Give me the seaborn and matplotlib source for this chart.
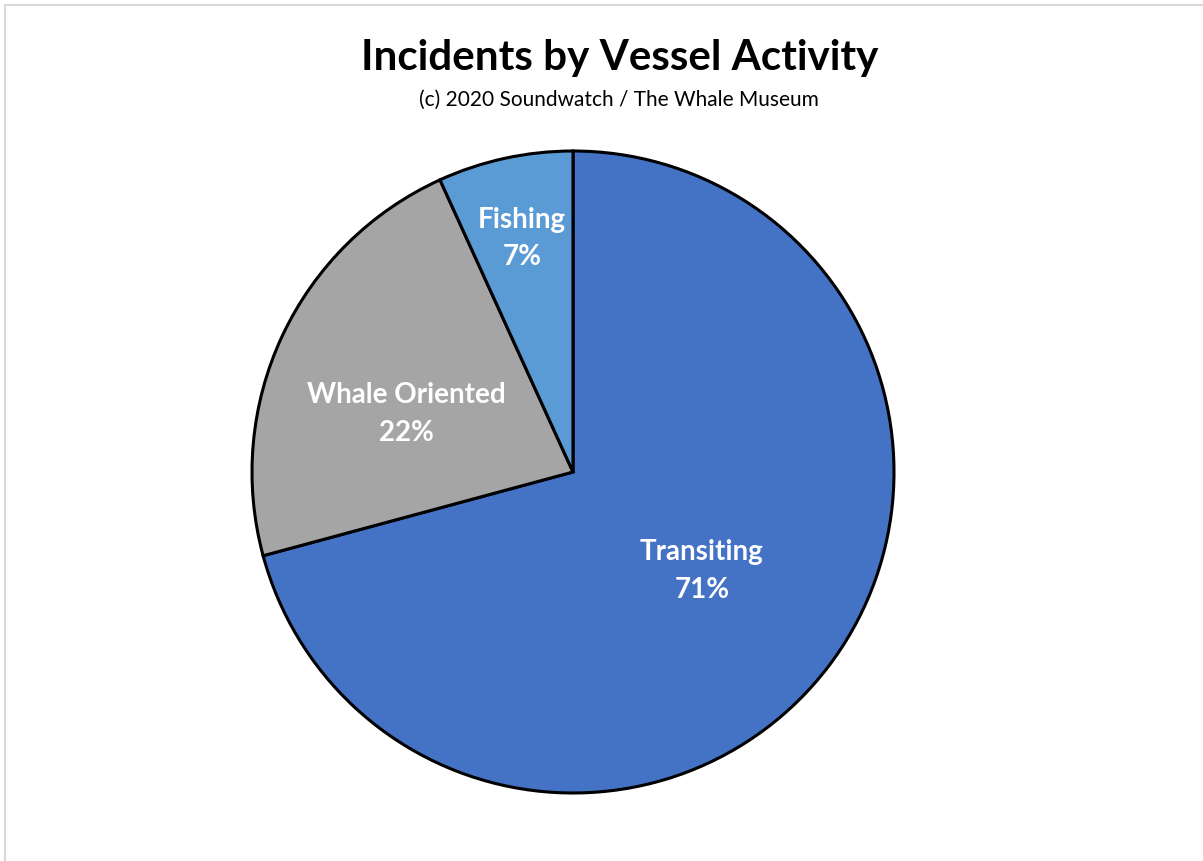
import numpy as np
import matplotlib.pyplot as plt
import seaborn as sns
from matplotlib.patches import Rectangle

# ==========================
# Data
# ==========================
activities = ['Transiting', 'Whale Oriented', 'Fishing']
shares = [70.8, 22.4, 6.8]
slice_colors = ['#4472C4', '#A5A5A5', '#5B9BD5']

# where each label sits, as fraction of the radius (Excel "best fit" look)
label_radius = [0.506, 0.55, 0.745]
label_angle_shift = [0, 6, 0]  # degrees

TITLE = 'Incidents by Vessel Activity'
SUBTITLE = '(c) 2020 Soundwatch / The Whale Museum'

sns.set_theme(style='white')
plt.rcParams['font.family'] = ['Lato', 'DejaVu Sans']

fig = plt.figure(figsize=(12.03, 8.61), dpi=100)

# thin grey chart frame (only top and left visible in the crop)
fig.patches.append(Rectangle((0.0045, -0.1), 1.2, 1.094, transform=fig.transFigure,
                             fill=False, edgecolor='#d9d9d9', linewidth=1.5))

# pie: center ~ (573, 472) px, radius ~ 321 px
cx, cy, r = 573 / 1203, 1 - 472 / 861, 321
ax = fig.add_axes([cx - r / 1203, cy - r / 861, 2 * r / 1203, 2 * r / 861])

wedges, _ = ax.pie(
    shares,
    colors=slice_colors,
    startangle=90,
    counterclock=False,
    wedgeprops=dict(edgecolor='black', linewidth=2.2),
    radius=1.0,
)
ax.set_xlim(-1.0, 1.0)
ax.set_ylim(-1.0, 1.0)
ax.set_aspect('equal')
ax.axis('off')

total = sum(shares)
for w, name, val, rf, da in zip(wedges, activities, shares, label_radius, label_angle_shift):
    mid = np.deg2rad((w.theta1 + w.theta2) / 2 + da)
    ax.text(rf * np.cos(mid), rf * np.sin(mid),
            f"{name}\n{round(100 * val / total)}%",
            ha='center', va='center', color='white', fontsize=20,
            fontweight='bold', linespacing=1.55)

fig.text(620 / 1203, 1 - 58 / 861, TITLE, ha='center', va='center',
         fontsize=30.3, fontweight='bold', color='black')
fig.text(619 / 1203, 1 - 100 / 861, SUBTITLE, ha='center', va='center',
         fontsize=15, color='black')

fig.savefig('out.png', dpi=100)
